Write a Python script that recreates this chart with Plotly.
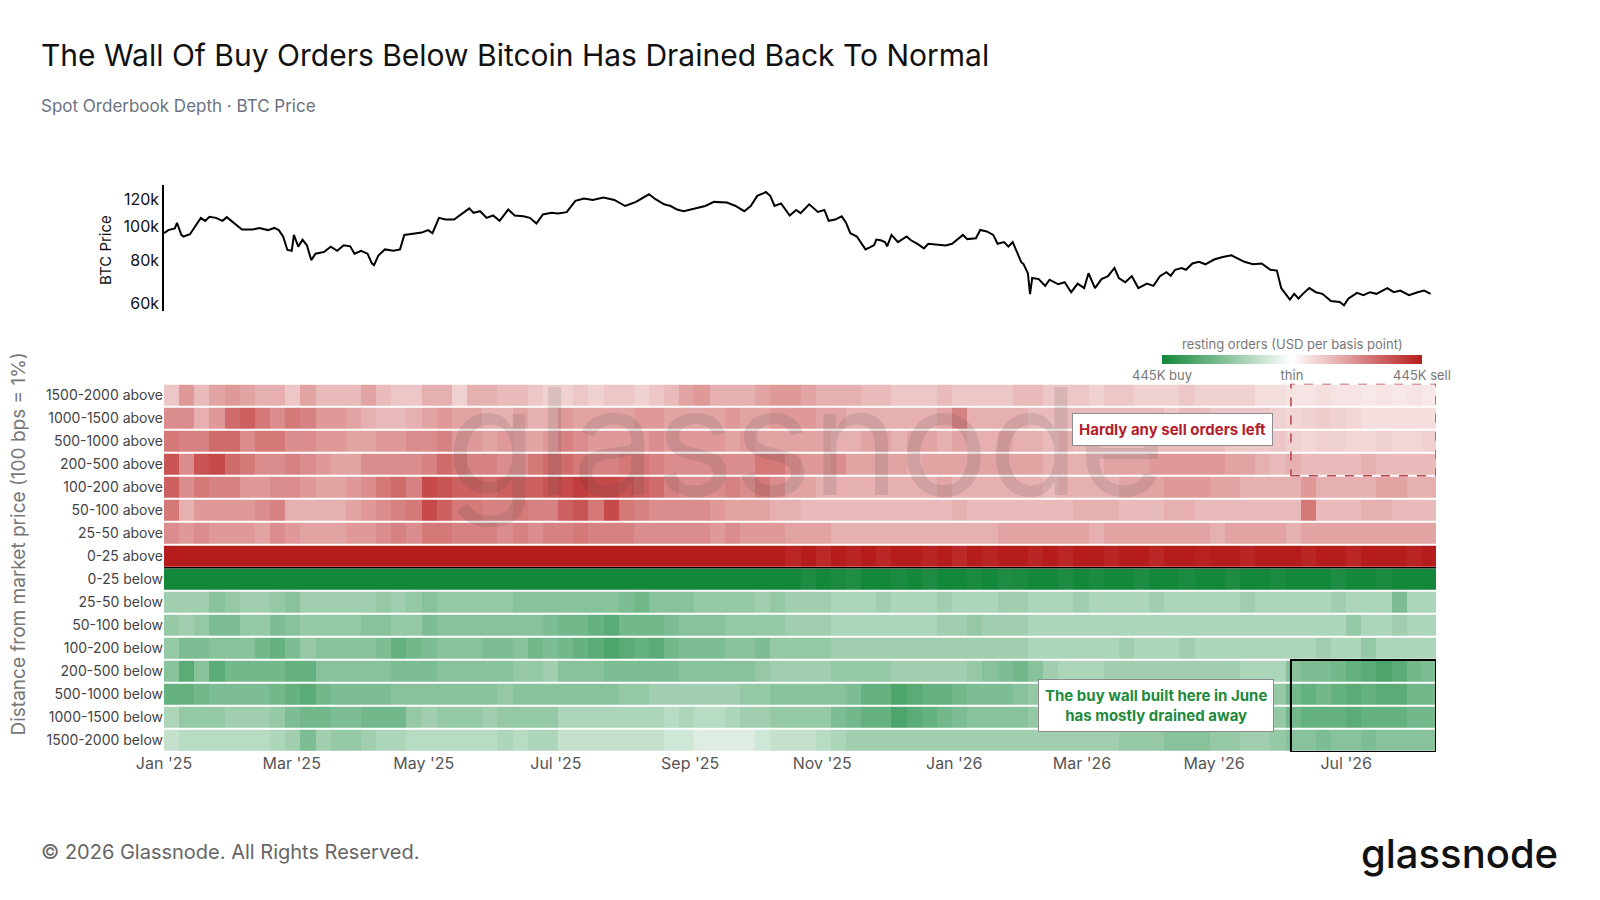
import plotly.graph_objects as go
import pandas as pd
import math

# ---------------- DATA ----------------
# BTC price (USD)
price_dates = ["2025-01-01","2025-01-03","2025-01-06","2025-01-07","2025-01-09","2025-01-10","2025-01-13","2025-01-16","2025-01-18","2025-01-20","2025-01-22","2025-01-25","2025-01-28","2025-01-30","2025-02-02","2025-02-04","2025-02-06","2025-02-11","2025-02-14","2025-02-18","2025-02-21","2025-02-23","2025-02-25","2025-02-27","2025-03-01","2025-03-02","2025-03-04","2025-03-06","2025-03-08","2025-03-10","2025-03-12","2025-03-16","2025-03-19","2025-03-22","2025-03-25","2025-03-28","2025-03-30","2025-04-02","2025-04-05","2025-04-07","2025-04-08","2025-04-10","2025-04-13","2025-04-17","2025-04-20","2025-04-22","2025-04-26","2025-04-30","2025-05-03","2025-05-05","2025-05-08","2025-05-11","2025-05-15","2025-05-18","2025-05-22","2025-05-24","2025-05-27","2025-05-30","2025-06-02","2025-06-05","2025-06-09","2025-06-12","2025-06-16","2025-06-19","2025-06-22","2025-06-25","2025-06-29","2025-07-02","2025-07-06","2025-07-10","2025-07-14","2025-07-18","2025-07-23","2025-07-28","2025-08-02","2025-08-07","2025-08-13","2025-08-16","2025-08-20","2025-08-23","2025-08-26","2025-08-29","2025-09-03","2025-09-08","2025-09-12","2025-09-18","2025-09-22","2025-09-26","2025-09-29","2025-10-02","2025-10-05","2025-10-06","2025-10-08","2025-10-10","2025-10-13","2025-10-17","2025-10-20","2025-10-22","2025-10-26","2025-10-30","2025-11-02","2025-11-04","2025-11-07","2025-11-10","2025-11-12","2025-11-14","2025-11-17","2025-11-19","2025-11-21","2025-11-23","2025-11-25","2025-11-26","2025-11-28","2025-11-30","2025-12-01","2025-12-03","2025-12-06","2025-12-10","2025-12-12","2025-12-15","2025-12-18","2025-12-20","2025-12-24","2025-12-28","2025-12-31","2026-01-03","2026-01-05","2026-01-07","2026-01-11","2026-01-13","2026-01-16","2026-01-19","2026-01-21","2026-01-24","2026-01-26","2026-01-28","2026-01-30","2026-02-01","2026-02-02","2026-02-04","2026-02-05","2026-02-06","2026-02-09","2026-02-12","2026-02-14","2026-02-18","2026-02-21","2026-02-24","2026-02-27","2026-03-02","2026-03-04","2026-03-07","2026-03-10","2026-03-13","2026-03-16","2026-03-18","2026-03-21","2026-03-24","2026-03-27","2026-03-31","2026-04-03","2026-04-06","2026-04-09","2026-04-11","2026-04-13","2026-04-16","2026-04-18","2026-04-21","2026-04-24","2026-04-27","2026-05-01","2026-05-05","2026-05-09","2026-05-12","2026-05-15","2026-05-19","2026-05-23","2026-05-27","2026-05-30","2026-06-01","2026-06-03","2026-06-05","2026-06-07","2026-06-09","2026-06-11","2026-06-14","2026-06-17","2026-06-20","2026-06-24","2026-06-28","2026-06-30","2026-07-02","2026-07-06","2026-07-09","2026-07-12","2026-07-15","2026-07-20","2026-07-23","2026-07-26","2026-07-30","2026-08-03","2026-08-06","2026-08-09"]
price_values = [95600,97600,98700,102500,94500,93500,94900,101600,105900,103800,106600,105900,103800,106400,102500,99900,98000,98000,99000,97600,99000,97600,93500,85500,85000,94500,87400,91500,88200,79900,83400,84400,87400,85000,88200,87600,83400,85000,83400,78200,77300,82400,85800,85000,85800,94500,95100,96000,97600,95600,105900,104700,104700,108300,112800,109500,110700,105900,107600,103800,111900,107600,107100,105900,102000,108300,109500,109000,110000,118600,120500,119300,121300,119300,114600,117800,123900,119900,115900,114600,111900,110700,112500,114600,117800,117300,114600,110700,114600,122600,124900,125800,122600,114600,116600,107600,111600,109300,115900,110200,111600,103800,104700,107000,102500,95600,93500,89500,85800,87000,88300,91600,91200,90100,87600,94500,90100,93500,91200,89000,86400,89100,88700,88100,89100,92400,94500,91900,92400,97700,96700,94500,89100,90100,87400,90100,84400,78700,77800,73200,63700,70900,70400,67300,70100,68000,68900,64500,68300,66300,73200,66300,70400,71800,75800,70900,68900,71800,66300,68300,67300,71800,73700,72000,74900,75800,74900,78100,79000,77700,80200,81600,82500,80700,79000,77700,78100,74900,74500,66300,63800,61400,63800,61800,63800,66300,64500,63800,60800,60400,59100,61800,64200,63200,64500,63800,66300,64500,65200,63200,64500,65200,63800]

# Resting orders, weekly, thousand USD per basis point (first week starts 2025-01-01)
week_start = "2025-01-01"
row_labels = ["1500-2000 below","1000-1500 below","500-1000 below","200-500 below",
              "100-200 below","50-100 below","25-50 below","0-25 below",
              "0-25 above","25-50 above","50-100 above","100-200 above",
              "200-500 above","500-1000 above","1000-1500 above","1500-2000 above"]

above_1500_2000 = [110,200,135,180,200,180,155,155,110,180,135,135,135,180,135,110,110,155,155,90,155,155,135,135,110,90,
                   90,110,90,110,110,90,110,135,180,200,155,155,155,180,200,200,180,155,155,155,135,135,110,110,110,135,110,110,110,110,
                   135,135,110,110,110,90,110,110,90,90,90,110,90,90,90,90,65,65,55,55,65,55,55,45,55,45,55,45]
above_1000_1500 = [225,225,155,200,290,310,265,225,265,245,200,200,180,155,135,135,155,180,200,180,180,155,155,180,155,155,
                   200,180,180,180,180,200,200,180,180,180,180,200,180,180,200,200,200,180,180,155,155,155,155,155,155,180,245,155,155,155,
                   155,135,135,135,135,135,135,135,135,135,110,135,135,110,110,110,110,90,80,90,100,90,80,65,65,65,65,65]
above_500_1000 = [265,245,245,290,290,225,265,265,225,225,200,200,180,180,200,200,225,225,245,200,200,180,200,180,180,200,
                  245,225,200,200,200,200,225,200,200,200,200,180,200,180,180,180,180,180,155,155,180,180,155,180,180,155,180,155,155,180,
                  155,155,135,155,135,135,135,135,135,135,135,135,135,135,110,110,110,110,90,80,90,90,80,80,90,80,80,90]
above_200_500 = [335,225,335,355,290,265,225,225,245,225,200,180,180,225,225,225,225,245,290,265,245,245,225,225,265,290,
                 290,265,245,245,265,265,245,225,225,225,225,225,225,265,265,225,200,200,225,180,180,180,180,155,180,180,180,180,180,180,
                 180,180,155,155,155,155,180,180,180,200,200,200,200,200,180,180,155,135,155,135,135,135,135,155,135,135,135,135]
above_100_200 = [310,225,265,245,245,200,200,225,225,200,180,180,200,225,265,290,245,355,335,310,310,290,310,310,310,335,
                 355,380,355,355,335,310,290,245,225,225,225,245,225,265,225,180,180,155,155,155,155,155,155,155,155,180,155,155,155,155,
                 155,155,135,155,155,155,155,180,180,180,200,200,200,180,180,155,155,155,155,200,155,155,155,155,180,180,155,155]
above_50_100 = [265,155,200,200,200,200,225,245,155,155,155,155,180,200,225,245,265,355,310,265,265,245,245,265,245,245,
                310,335,265,355,265,245,225,225,225,225,200,180,180,180,155,155,135,135,135,135,135,135,135,135,135,135,155,135,135,135,
                135,135,135,135,155,155,155,135,135,135,155,155,135,135,135,135,135,135,135,265,135,135,135,155,155,135,135,135]
above_25_50 = [225,200,225,200,200,200,180,225,200,180,180,180,200,200,225,245,225,265,265,245,245,245,225,245,225,245,
               245,265,245,245,245,225,225,225,225,225,200,225,200,200,200,180,180,180,155,155,155,155,155,155,155,155,155,155,155,180,
               180,180,180,180,180,155,180,180,180,180,180,180,180,155,180,180,180,180,155,180,180,180,180,180,180,180,180,180]
above_0_25 = [445,445,445,445,445,445,445,445,445,445,445,445,445,445,445,445,445,445,445,445,445,445,445,445,445,445,
              445,445,445,445,445,445,445,445,445,445,445,445,445,445,445,425,445,420,445,430,445,425,445,445,430,445,420,445,430,445,
              445,430,445,425,445,445,430,445,445,425,445,445,435,445,445,430,445,445,445,430,445,445,425,445,445,445,430,445]
below_0_25 = [445,445,445,445,445,445,445,445,445,445,445,445,445,445,445,445,445,445,445,445,445,445,445,445,445,445,
              445,445,445,445,445,445,445,445,445,445,445,445,445,445,445,445,425,445,430,420,445,445,430,445,425,445,445,430,445,425,
              430,445,445,425,445,430,445,445,425,445,445,430,445,445,425,445,445,430,445,445,445,425,445,445,430,445,445,445]
below_25_50 = [180,180,180,225,200,180,180,200,225,180,180,180,180,180,200,180,200,225,200,200,200,200,200,225,225,225,
               225,225,225,225,245,265,225,225,225,200,200,200,200,180,200,180,180,180,155,155,155,180,155,155,155,180,155,155,155,180,
               180,155,155,155,180,155,155,155,155,180,155,155,155,155,155,180,155,155,155,155,155,180,155,155,155,245,155,155]
below_50_100 = [200,180,200,245,245,200,200,245,225,200,200,200,200,225,225,200,200,245,225,225,225,225,225,225,225,245,
                265,265,290,310,265,265,265,245,225,225,225,200,200,200,200,180,180,180,155,155,155,155,155,155,155,180,180,200,180,180,
                180,155,155,155,155,155,155,155,155,155,155,155,155,155,155,155,155,155,155,155,155,155,200,155,155,180,155,155]
below_100_200 = [200,245,245,225,225,225,265,290,245,200,225,225,225,225,245,290,265,245,225,225,225,245,245,225,265,245,
                 265,290,310,335,310,290,310,265,245,245,245,225,225,245,200,200,200,200,180,180,180,180,180,180,180,180,180,180,180,180,
                 180,155,155,155,155,155,155,180,155,155,155,180,155,155,155,155,155,155,155,155,180,155,155,200,155,155,155,155]
below_200_500 = [225,310,225,310,265,265,265,265,290,290,225,225,225,225,225,245,245,245,225,225,225,225,225,200,200,180,
                 225,225,225,245,245,245,245,245,225,225,225,225,225,200,180,180,180,180,200,200,200,200,180,180,180,180,180,200,225,245,
                 265,225,180,155,155,155,180,180,180,180,180,180,180,180,180,155,155,155,225,245,245,265,290,310,335,310,265,245]
below_500_1000 = [290,290,265,245,245,245,245,265,290,310,265,245,245,245,245,225,225,225,225,225,225,225,200,225,225,225,
                  225,225,225,225,200,200,180,180,180,180,180,180,200,200,225,225,225,225,225,245,290,290,335,310,290,290,265,245,245,245,
                  225,200,200,225,225,200,200,200,200,200,225,225,225,200,225,200,180,200,265,290,265,290,310,290,310,310,265,265]
below_1000_1500 = [155,200,200,200,180,180,180,200,245,265,265,245,245,265,265,265,200,180,200,200,200,180,200,200,200,200,
                   155,155,155,155,155,155,155,135,155,135,135,155,180,180,200,200,200,200,245,265,290,290,335,310,290,265,245,225,225,225,
                   225,200,200,200,200,200,200,200,200,200,225,225,225,200,200,200,180,200,265,290,290,290,310,290,290,290,265,265]
below_1500_2000 = [110,135,135,135,135,135,135,155,180,245,180,200,200,180,155,155,135,135,135,135,135,135,155,135,155,155,
                   110,110,110,110,110,110,110,90,90,65,65,65,65,90,110,110,110,135,155,180,180,180,180,180,180,180,180,180,180,180,
                   180,180,180,180,180,180,180,200,200,200,225,225,225,200,200,180,180,200,225,225,245,225,225,245,225,225,225,225]

depth_full_scale = 445          # colour-scale limit, thousand USD per bp
period_start, period_end = "2025-01-01", "2026-08-11 12:00"
box_start = "2026-06-05 12:00"

# ---------------- BUILD ----------------
below_rows = [below_1500_2000, below_1000_1500, below_500_1000, below_200_500,
              below_100_200, below_50_100, below_25_50, below_0_25]
above_rows = [above_0_25, above_25_50, above_50_100, above_100_200,
              above_200_500, above_500_1000, above_1000_1500, above_1500_2000]
z = [[-v for v in r] for r in below_rows] + [list(r) for r in above_rows]
n_weeks = min(len(r) for r in z)
z = [r[:n_weeks] for r in z]
week_centers = pd.date_range(week_start, periods=n_weeks, freq="7D") + pd.Timedelta(hours=84)

W, H = 1600, 900
ML, MR = 164, 164
PW = W - ML - MR
def px(x):  # pixel -> paper x
    return (x - ML) / PW
def py(y):  # pixel -> paper y
    return 1 - y / H

FONT = "Inter, Roboto, 'Open Sans', sans-serif"

fig = go.Figure()
fig.add_trace(go.Heatmap(
    z=z, x=week_centers, y=list(range(len(row_labels))),
    colorscale=[[0, "#13873a"], [0.5, "#ffffff"], [1, "#b71c1c"]],
    zmin=-depth_full_scale, zmax=depth_full_scale, ygap=2, xgap=0,
    hoverinfo="skip",
    colorbar=dict(orientation="h", x=px(1292), xanchor="center",
                  y=py(380), yanchor="bottom", ypad=0, xpad=0,
                  len=260, lenmode="pixels", thickness=9,
                  outlinewidth=0, ticks="",
                  tickvals=[-depth_full_scale, 0, depth_full_scale],
                  ticktext=["445K buy", "thin", "445K sell"],
                  tickfont=dict(size=13, color="#777777", family=FONT)),
))
fig.add_trace(go.Scatter(x=price_dates, y=price_values, mode="lines",
                         line=dict(color="#000000", width=2), yaxis="y2",
                         hoverinfo="skip", showlegend=False))

fig.update_layout(
    width=W, height=H, margin=dict(l=ML, r=MR, t=0, b=0, autoexpand=False),
    paper_bgcolor="white", plot_bgcolor="white", showlegend=False,
    font=dict(family=FONT, color="#333333"),
    xaxis=dict(type="date", range=[period_start, period_end], anchor="y",
               tickformat="%b '%y", dtick="M2", tick0="2025-01-01",
               tickfont=dict(size=16, color="#555555"), ticks="",
               showgrid=False, zeroline=False, showline=False, automargin=False),
    yaxis=dict(domain=[py(752), py(383.7)], range=[-0.5, 15.5],
               tickvals=list(range(len(row_labels))), ticktext=row_labels,
               tickfont=dict(size=14, color="#444444"), ticks="",
               showgrid=False, zeroline=False, showline=False, automargin=False),
    yaxis2=dict(domain=[py(311), py(184.7)], type="log", anchor="x",
                range=[math.log10(56900), math.log10(132100)],
                tickvals=[60000, 80000, 100000, 120000],
                ticktext=["60k", "80k", "100k", "120k"],
                tickfont=dict(size=16, color="#111111"), ticks="",
                showline=True, linecolor="#000000", linewidth=1.5,
                showgrid=False, zeroline=False, automargin=False),
)

shapes = [
    dict(type="line", xref="paper", yref="y", x0=0, x1=1, y0=7.5, y1=7.5,
         line=dict(color="#000000", width=1.5)),
    dict(type="rect", xref="x", yref="y", x0=box_start, x1=period_end, y0=11.5, y1=15.5,
         line=dict(color="#b5424a", width=1.5, dash="dash")),
    dict(type="rect", xref="x", yref="y", x0=box_start, x1=period_end, y0=-0.5, y1=3.5,
         line=dict(color="#000000", width=2)),
]
fig.update_layout(shapes=shapes)

ann = [
    dict(text="glassnode", xref="paper", yref="paper", x=px(805), y=py(442),
         xanchor="center", yanchor="middle", showarrow=False,
         font=dict(size=148, color="rgba(60,60,60,0.12)", family=FONT, weight=400)),
    dict(text="The Wall Of Buy Orders Below Bitcoin Has Drained Back To Normal",
         xref="paper", yref="paper", x=px(38.8), y=py(55), xanchor="left", yanchor="middle",
         showarrow=False, font=dict(size=30, color="#111111", family=FONT)),
    dict(text="Spot Orderbook Depth · BTC Price", xref="paper", yref="paper",
         x=px(38.8), y=py(106), xanchor="left", yanchor="middle", showarrow=False,
         font=dict(size=17, color="#6b7280", family=FONT)),
    dict(text="© 2026 Glassnode. All Rights Reserved.", xref="paper", yref="paper",
         x=px(38.8), y=py(852), xanchor="left", yanchor="middle", showarrow=False,
         font=dict(size=20, color="#666666", family=FONT)),
    dict(text="glassnode", xref="paper", yref="paper", x=px(1560), y=py(853),
         xanchor="right", yanchor="middle", showarrow=False,
         font=dict(size=40, color="#111111", family=FONT, weight=500)),
    dict(text="BTC Price", xref="paper", yref="paper", x=px(105), y=py(250),
         xanchor="center", yanchor="middle", textangle=-90, showarrow=False,
         font=dict(size=15, color="#111111", family=FONT)),
    dict(text="Distance from market price (100 bps = 1%)", xref="paper", yref="paper",
         x=px(17.5), y=py(544), xanchor="center", yanchor="middle", textangle=-90,
         showarrow=False, font=dict(size=19, color="#777777", family=FONT)),
    dict(text="resting orders (USD per basis point)", xref="paper", yref="paper",
         x=px(1292), y=py(344), xanchor="center", yanchor="middle", showarrow=False,
         font=dict(size=13, color="#777777", family=FONT)),
    dict(text="<b>Hardly any sell orders left</b>", xref="x", yref="y",
         x="2026-04-12", y=13.5, xanchor="center", yanchor="middle", showarrow=False,
         bgcolor="white", bordercolor="#8c8c8c", borderwidth=1, borderpad=6,
         font=dict(size=15, color="#b3202a", family=FONT)),
    dict(text="<b>The buy wall built here in June<br>has mostly drained away</b>",
         xref="x", yref="y", x="2026-04-04", y=1.5, xanchor="center", yanchor="middle",
         showarrow=False, bgcolor="white", bordercolor="#8c8c8c", borderwidth=1,
         borderpad=6, font=dict(size=15, color="#1e8a3c", family=FONT)),
]
fig.update_layout(annotations=ann)

fig.write_html("out.html", config={"displayModeBar": False},
               post_script="document.body.style.margin='0px';document.body.style.overflow='hidden';")
